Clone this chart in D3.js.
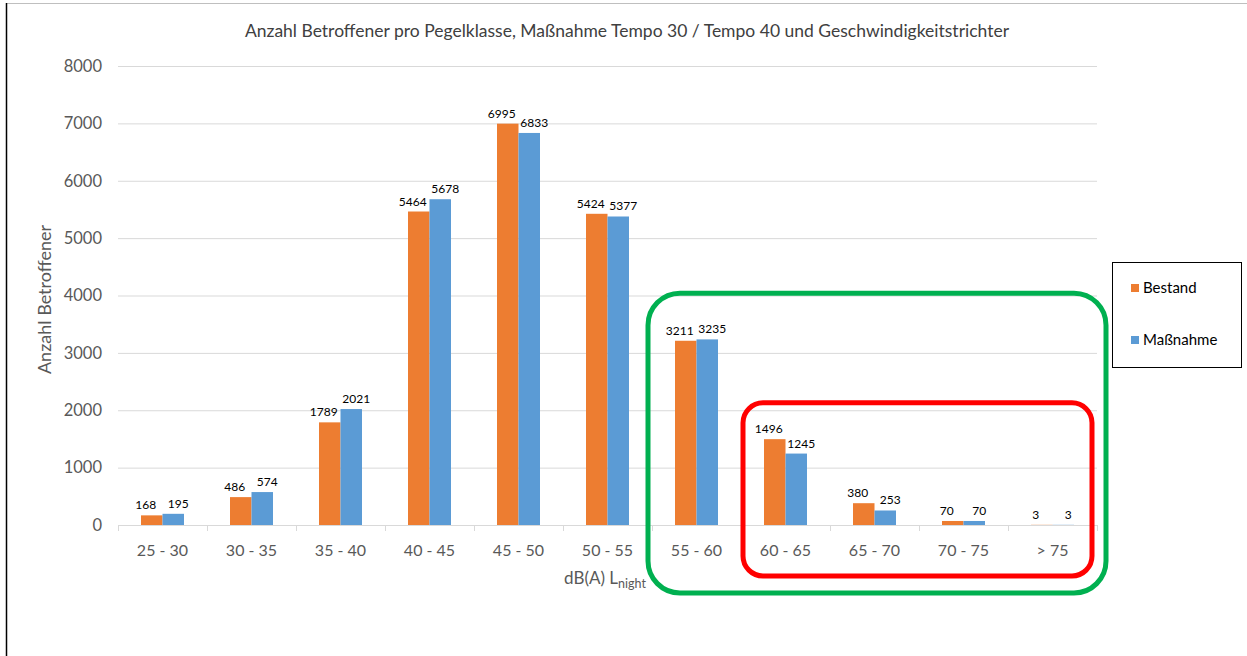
<html>
<head>
<script src="https://d3js.org/d3.v7.min.js"></script>
<style>
  body { margin: 0; background: #fff; }
  text { font-family: Lato, "Noto Sans", sans-serif; }
</style>
</head>
<body>
<svg id="chart" width="1247" height="656"></svg>
<script>
const categories = ['25 - 30', '30 - 35', '35 - 40', '40 - 45', '45 - 50', '50 - 55', '55 - 60', '60 - 65', '65 - 70', '70 - 75', '> 75']
const bestand = [168, 486, 1789, 5464, 6995, 5424, 3211, 1496, 380, 70, 3]
const massnahme = [195, 574, 2021, 5678, 6833, 5377, 3235, 1245, 253, 70, 3]
const seriesNames = ['Bestand', 'Maßnahme']
const yTicks = [0, 1000, 2000, 3000, 4000, 5000, 6000, 7000, 8000]
const colors = ['#ED7D31', '#5B9BD5']

const svg = d3.select('svg#chart')
const margins = {top: 66, left: 118, right: 150, bottom: 131}
const width = 1247, height = 656
const chartWidth = width - margins.left - margins.right
const chartHeight = height - margins.top - margins.bottom

// outer frame of the pasted chart
svg.append('line').attr('x1', 6).attr('x2', width).attr('y1', 3.5).attr('y2', 3.5)
   .attr('stroke', '#bfbfbf').attr('stroke-width', 1)
svg.append('line').attr('x1', 6.5).attr('x2', 6.5).attr('y1', 3).attr('y2', height)
   .attr('stroke', '#000').attr('stroke-width', 1.5)

svg.append('text')
   .attr('x', 627).attr('y', 37)
   .attr('text-anchor', 'middle')
   .attr('font-size', 17.5).attr('fill', '#404040')
   .text('Anzahl Betroffener pro Pegelklasse, Maßnahme Tempo 30 / Tempo 40 und Geschwindigkeitstrichter')

const chart = svg.append('g').attr('transform', `translate(${margins.left}, ${margins.top})`)

const xScale = d3.scaleBand().domain(categories).range([0, chartWidth])
const yScale = d3.scaleLinear().domain([0, 8000]).range([chartHeight, 0])
const barW = 21.5
const xSub = d3.scaleBand().domain(seriesNames).range([xScale.bandwidth() / 2 - barW, xScale.bandwidth() / 2 + barW])

// gridlines
let yGrid = d3.axisLeft(yScale).tickValues(yTicks).tickSize(-chartWidth).tickFormat('')
chart.append('g').attr('class', 'y grid').call(yGrid)
     .call(g => g.select('.domain').remove())
     .call(g => g.selectAll('line').attr('stroke', '#d9d9d9'))

// y tick labels
let yAxis = d3.axisLeft(yScale).tickValues(yTicks).tickSize(0).tickPadding(16).tickFormat(d3.format('d'))
chart.append('g').attr('class', 'y axis').call(yAxis)
     .call(g => g.select('.domain').remove())
     .call(g => g.selectAll('text').attr('font-size', 16.5).attr('fill', '#595959')
                  .attr('font-family', 'Lato, sans-serif'))

// x axis with ticks at band boundaries
chart.append('line').attr('x1', 0).attr('x2', chartWidth)
     .attr('y1', chartHeight + 0.5).attr('y2', chartHeight + 0.5).attr('stroke', '#d9d9d9')
const bounds = categories.map(c => xScale(c)).concat([chartWidth])
chart.selectAll('line.xtick').data(bounds).join('line')
     .attr('class', 'xtick')
     .attr('x1', d => Math.round(d) + 0.5).attr('x2', d => Math.round(d) + 0.5)
     .attr('y1', chartHeight).attr('y2', chartHeight + 6).attr('stroke', '#d9d9d9')
chart.selectAll('text.xlab').data(categories).join('text')
     .attr('class', 'xlab')
     .attr('x', d => xScale(d) + xScale.bandwidth() / 2)
     .attr('y', chartHeight + 31)
     .attr('text-anchor', 'middle').attr('font-size', 16).attr('fill', '#595959')
     .text(d => d)

// bars
const rows = categories.map((c, i) => ({cat: c, vals: [bestand[i], massnahme[i]]}))
const groups = chart.selectAll('g.cat').data(rows).join('g')
     .attr('class', 'cat')
     .attr('transform', d => `translate(${xScale(d.cat)}, 0)`)
groups.selectAll('rect').data(d => d.vals.map((v, j) => ({name: seriesNames[j], v: v, j: j}))).join('rect')
     .attr('x', d => xSub(d.name))
     .attr('width', xSub.bandwidth())
     .attr('y', d => yScale(d.v))
     .attr('height', d => chartHeight - yScale(d.v))
     .attr('fill', d => colors[d.j])
groups.selectAll('text').data(d => d.vals.map((v, j) => ({name: seriesNames[j], v: v, j: j}))).join('text')
     .attr('x', d => xSub(d.name) + xSub.bandwidth() / 2 + (d.j === 0 ? -6 : 5))
     .attr('y', d => yScale(d.v) - 6)
     .attr('text-anchor', 'middle').attr('font-size', 12).attr('fill', '#000')
     .text(d => d.v)

// axis titles
svg.append('text')
   .attr('transform', `translate(51, ${margins.top + chartHeight / 2 + 4}) rotate(-90)`)
   .attr('text-anchor', 'middle').attr('font-size', 18).attr('fill', '#595959')
   .text('Anzahl Betroffener')
const xt = svg.append('text')
   .attr('x', 605).attr('y', 584)
   .attr('text-anchor', 'middle').attr('font-size', 17).attr('fill', '#595959')
xt.append('tspan').text('dB(A) L')
xt.append('tspan').attr('font-size', 12.5).attr('dy', 4).text('night')

// legend
const legend = svg.append('g').attr('transform', 'translate(1112, 262)')
legend.append('rect').attr('x', 0.5).attr('y', 0.5).attr('width', 129).attr('height', 105)
      .attr('fill', '#fff').attr('stroke', '#000')
seriesNames.forEach((n, i) => {
  legend.append('rect').attr('x', 19).attr('y', 22 + i * 52).attr('width', 8).attr('height', 8).attr('fill', colors[i])
  legend.append('text').attr('x', 31).attr('y', 31 + i * 52).attr('font-size', 15).attr('fill', '#000').text(n)
})

// highlight frames around the loud classes
const gx0 = margins.left + xScale('55 - 60') - 4
const gx1 = margins.left + chartWidth + 9
const gy0 = margins.top + yScale(4040)
svg.append('rect').attr('x', gx0).attr('y', gy0).attr('width', gx1 - gx0).attr('height', 593 - gy0)
   .attr('rx', 32).attr('fill', 'none').attr('stroke', '#00B050').attr('stroke-width', 5)
const rx0 = margins.left + xScale('60 - 65') + 2
const rx1 = margins.left + chartWidth - 5
const ry0 = margins.top + yScale(2130)
svg.append('rect').attr('x', rx0).attr('y', ry0).attr('width', rx1 - rx0).attr('height', 576 - ry0)
   .attr('rx', 20).attr('fill', 'none').attr('stroke', '#FF0000').attr('stroke-width', 5)
</script>
</body>
</html>
